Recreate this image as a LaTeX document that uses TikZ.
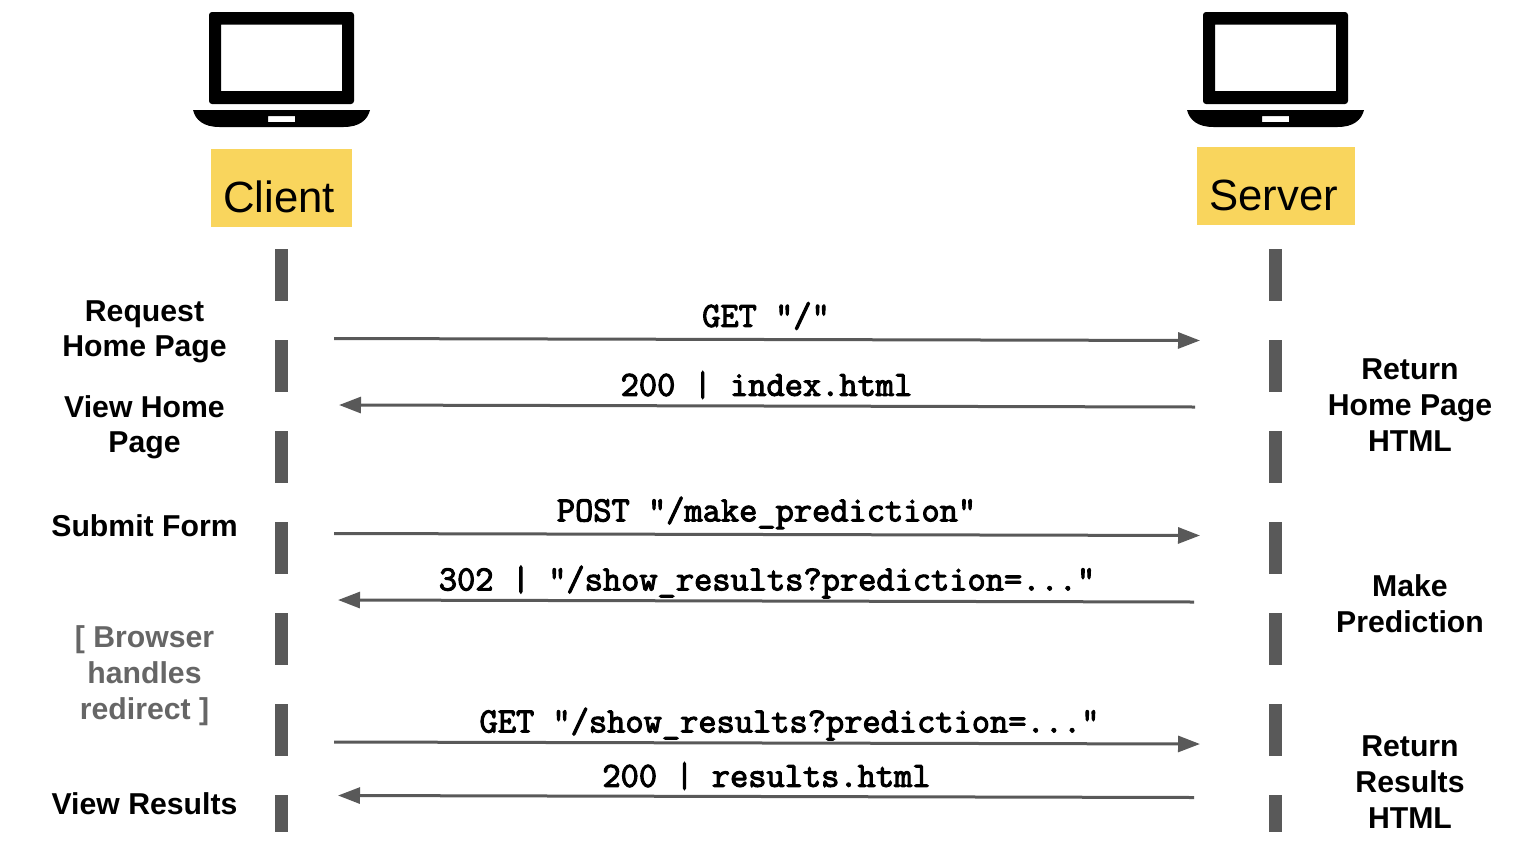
\documentclass[tikz,border=0pt]{standalone}
\usepackage{fontspec}
\setmainfont{Liberation Sans}
\newfontfamily\callfont{Latin Modern Mono}[FakeBold=3]
\usetikzlibrary{arrows.meta}
\definecolor{lifegray}{HTML}{595959}
\definecolor{notegray}{HTML}{666666}
\definecolor{tagyellow}{HTML}{F9D55D}

\begin{document}
\begin{tikzpicture}[x=1pt,y=-1pt]
        \tikzstyle{tag}=[fill=tagyellow, inner sep=0pt, font=\fontsize{43.7}{50}\selectfont, text height=48pt, text depth=0pt]
        \tikzstyle{note}=[align=center, font=\fontsize{30.2}{36}\selectfont\bfseries]
        \tikzstyle{call}=[font=\fontsize{35.4}{36}\selectfont\callfont]
        \tikzstyle{msg}=[draw=lifegray, line width=3pt, -{Triangle[length=22pt,width=16pt,fill=lifegray]}]
        \tikzstyle{life}=[draw=lifegray, line width=13pt, dash pattern=on 52pt off 39pt]
        \useasboundingbox (0,0) rectangle (1532,860);

        % laptops
        \foreach \lx in {281.5,1275.5} {
          \begin{scope}[shift={(\lx,0)}]
            \fill[black, even odd rule, rounded corners=3pt] (-72.5,12) rectangle (72.5,104)
              [sharp corners] (-60.5,24.5) rectangle (60.5,91);
            \fill[black, even odd rule] (-88.5,110) -- (88.5,110) .. controls (86,120) and (78,127) .. (62,127)
              -- (-62,127) .. controls (-78,127) and (-86,120) .. (-88.5,110) -- cycle
              (-13.5,116) rectangle (13.5,122);
          \end{scope}
        }

        % client and server boxes
        \node[tag, minimum width=141pt, minimum height=78pt] (client) at (281.5,188) {Client\kern5pt};
        \node[tag, minimum width=158pt, minimum height=78pt] (server) at (1276,186) {Server\kern5pt};

        % life lines
        \coordinate (ctop) at (281.5,249);
        \coordinate (cbot) at (281.5,832);
        \coordinate (stop) at (1275.5,249);
        \coordinate (sbot) at (1275.5,832);
        \draw[life] (ctop) -- (cbot);
        \draw[life] (stop) -- (sbot);

        % message ends
        \coordinate (a1) at (334,338.5);
        \coordinate (b1) at (1200,340.5);
        \coordinate (a2) at (1195,407);
        \coordinate (b2) at (339,405);
        \coordinate (a3) at (334,533.5);
        \coordinate (b3) at (1200,535.5);
        \coordinate (a4) at (1194,602);
        \coordinate (b4) at (338,600);
        \coordinate (a5) at (334,742);
        \coordinate (b5) at (1200,744);
        \coordinate (a6) at (1194,797.5);
        \coordinate (b6) at (338,795.5);
        \foreach \m in {1,...,6}
          \draw[msg] (a\m) -- (b\m);

        % message labels
        \node[call] (m1) at (766,316) {GET "/"};
        \node[call] (m2) at (766.5,385) {200 | index.html};
        \node[call] (m3) at (766.5,513) {POST "/make\_prediction"};
        \node[call] (m4) at (767,582) {302 | "/show\_results?prediction=..."};
        \node[call] (m5) at (789.5,724) {GET "/show\_results?prediction=..."};
        \node[call] (m6) at (766.5,776) {200 | results.html};

        % client side notes
        \node[note] (n1) at (144.5,332) {Request\\[-1pt]Home Page};
        \node[note] (n2) at (144.5,427.5) {View Home\\[-1pt]Page};
        \node[note] (n3) at (144.5,526) {Submit Form};
        \node[note, text=notegray] (n4) at (144.5,676) {[ Browser\\handles\\redirect ]};
        \node[note] (n5) at (144.5,804) {View Results};

        % server side notes
        \node[note] (r1) at (1410,405) {Return\\Home Page\\HTML};
        \node[note] (r2) at (1410,604) {Make\\Prediction};
        \node[note] (r3) at (1410,782) {Return\\Results\\HTML};
\end{tikzpicture}
\end{document}
